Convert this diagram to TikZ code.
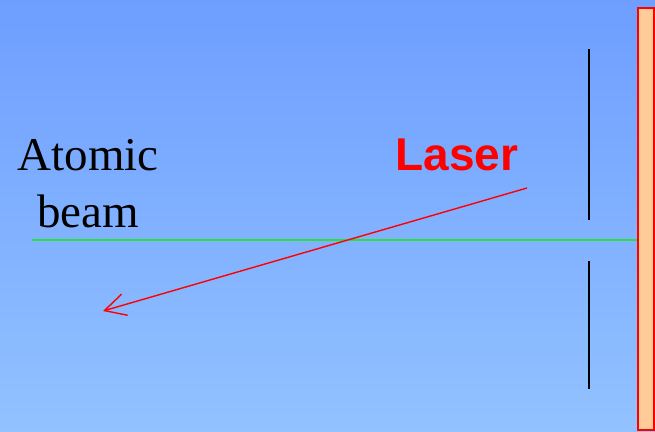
\documentclass[tikz,border=0pt]{standalone}
\usepackage{fontspec}
\setmainfont{Liberation Serif}
\newfontfamily\laserfont{Liberation Sans}
\usetikzlibrary{arrows.meta}
\definecolor{bgtop}{RGB}{110,158,255}
\definecolor{bgbottom}{RGB}{146,194,255}
\definecolor{beamgreen}{RGB}{40,225,60}
\definecolor{mirrorfill}{RGB}{255,204,153}

\begin{document}
\begin{tikzpicture}[x=1pt, y=-1pt,
  caption/.style={inner sep=0pt, align=center, font=\fontsize{47}{57}\selectfont},
  lasertext/.style={inner sep=0pt, text=red, font=\laserfont\bfseries\fontsize{46}{55}\selectfont},
  slit/.style={draw=black, line width=2pt},
  ray/.style={draw=red, line width=1.4pt, -{Straight Barb[length=21pt, width=22pt]}}
]
    \shade [top color=bgtop, bottom color=bgbottom] (0,0) rectangle (655,431);
    \useasboundingbox (0,0) rectangle (655,431);

    % mirror and slits
    \draw [draw=red, line width=2pt, fill=mirrorfill] (638,8) rectangle (654,430);
    \path [slit] (588.5,49) -- (588.5,220);
    \path [slit] (588.5,261) -- (588.5,389);

    % labels
    \node [caption, anchor=base] (atom) at (88,227) {Atomic\\beam};
    \node [lasertext, anchor=base] (laser) at (457,170) {Laser};

    % atomic beam and laser ray
    \coordinate (beamstart) at (32,240);
    \coordinate (beamend) at (637,240);
    \coordinate (raystart) at (527,188);
    \coordinate (rayend) at (103,311);
    \draw [beamgreen, line width=1.4pt] (beamstart) -- (beamend);
    \path [ray] (raystart) -- (rayend);
\end{tikzpicture}
\end{document}
